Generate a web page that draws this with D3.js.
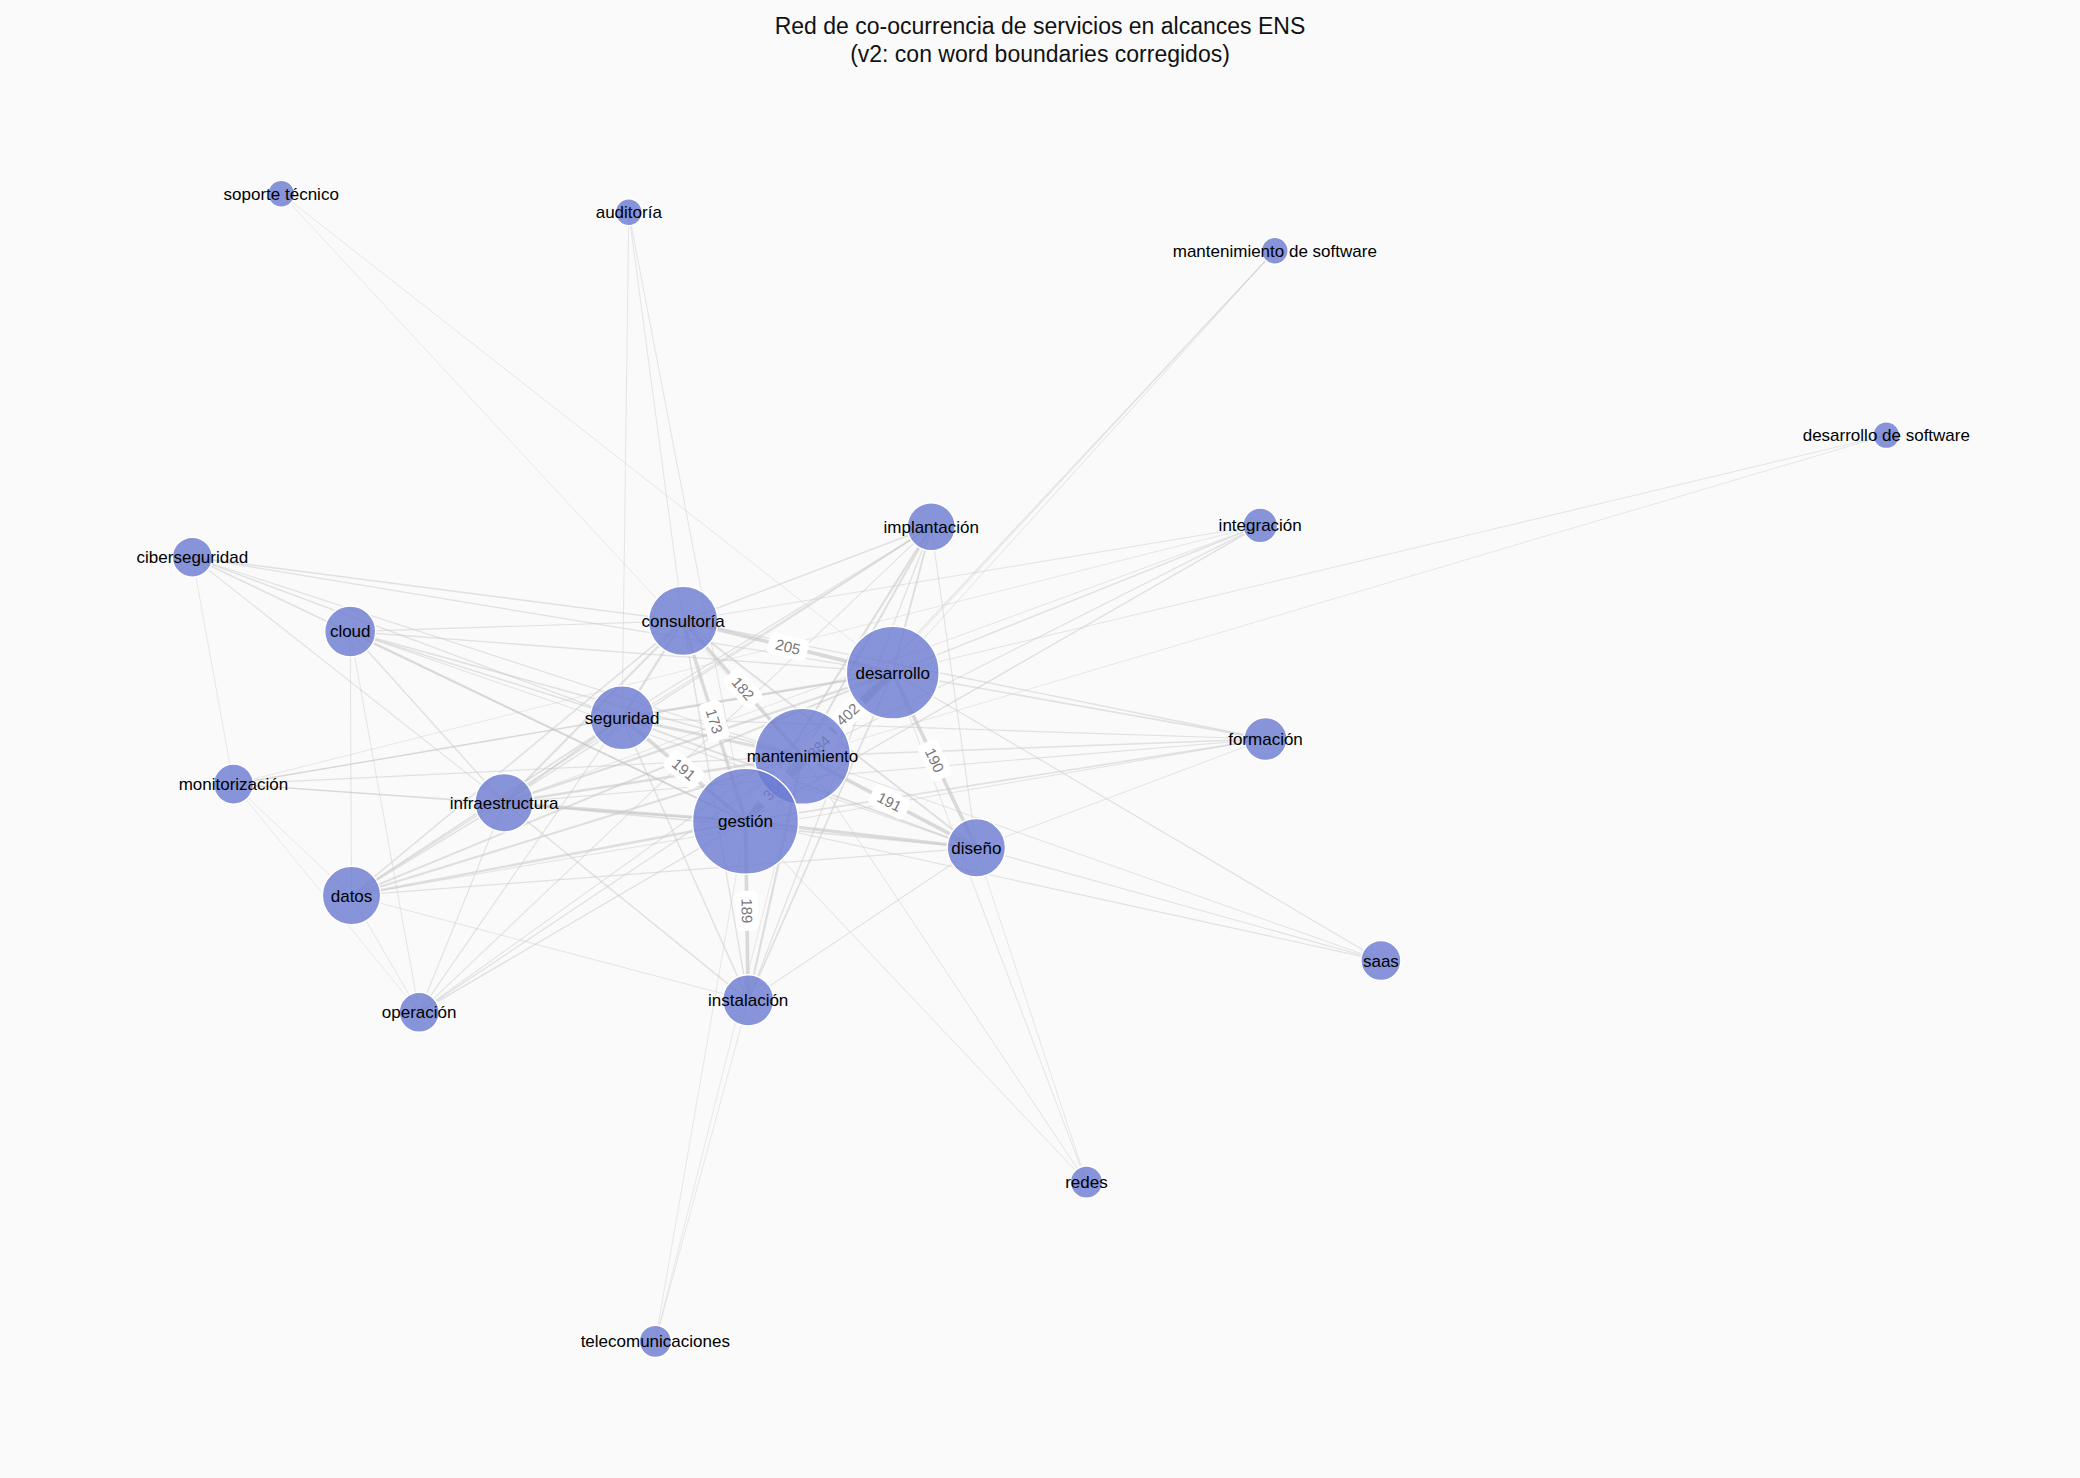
<!DOCTYPE html>
<html>
<head>
<meta charset="utf-8">
<script src="https://cdn.jsdelivr.net/npm/d3@7"></script>
<style>
body { margin: 0; background: #fafafa; }
text { font-family: "Liberation Sans", Arial, sans-serif; }
</style>
</head>
<body>
<script>
var width = 2080,
    height = 1478;

// nodes: name, layout position (x,y), frequency
var names = ["soporte técnico","auditoría","mantenimiento de software","desarrollo de software",
  "implantación","integración","ciberseguridad","cloud","consultoría","desarrollo","seguridad",
  "formación","mantenimiento","monitorización","infraestructura","gestión","diseño","datos",
  "saas","instalación","operación","redes","telecomunicaciones"];
var posX = [212,474,961,1422,702,950,145,264,515,673,469,954,605,176,380,562,736,265,1041,564,316,819,494];
var posY = [146,160,189,328,397,396,420,476,468,507,541,557,570,591,605,619,639,675,724,754,763,891,1011];
var freq = [36,36,36,36,115,60,80,130,240,430,205,92,460,80,170,560,170,170,80,130,80,52,52];

// edges: source, target, weight
var edgeSrc = [], edgeTgt = [], edgeW = [];
function e(a, b, w) { edgeSrc.push(a); edgeTgt.push(b); edgeW.push(w); }
e("soporte técnico","desarrollo",15); e("soporte técnico","mantenimiento",12);
e("auditoría","consultoría",20); e("auditoría","seguridad",18); e("auditoría","gestión",22);
e("mantenimiento de software","desarrollo",25); e("mantenimiento de software","mantenimiento",30); e("mantenimiento de software","gestión",20);
e("desarrollo de software","desarrollo",20); e("desarrollo de software","mantenimiento",15);
e("implantación","consultoría",60); e("implantación","desarrollo",80); e("implantación","mantenimiento",90);
e("implantación","gestión",100); e("implantación","seguridad",40); e("implantación","infraestructura",50);
e("implantación","datos",40); e("implantación","operación",30); e("implantación","instalación",40); e("implantación","diseño",30);
e("integración","desarrollo",50); e("integración","mantenimiento",40); e("integración","gestión",45);
e("integración","consultoría",25); e("integración","infraestructura",20); e("integración","monitorización",15);
e("ciberseguridad","consultoría",50); e("ciberseguridad","desarrollo",40); e("ciberseguridad","seguridad",45);
e("ciberseguridad","gestión",55); e("ciberseguridad","mantenimiento",35); e("ciberseguridad","infraestructura",30); e("ciberseguridad","monitorización",15);
e("cloud","consultoría",40); e("cloud","desarrollo",50); e("cloud","seguridad",55); e("cloud","gestión",70);
e("cloud","mantenimiento",60); e("cloud","infraestructura",50); e("cloud","datos",25); e("cloud","operación",20); e("cloud","diseño",30);
e("consultoría","desarrollo",205); e("consultoría","mantenimiento",182); e("consultoría","gestión",173);
e("consultoría","seguridad",110); e("consultoría","infraestructura",90); e("consultoría","datos",60);
e("consultoría","diseño",80); e("consultoría","formación",50); e("consultoría","instalación",50);
e("desarrollo","mantenimiento",402); e("desarrollo","gestión",384); e("desarrollo","diseño",190);
e("desarrollo","seguridad",120); e("desarrollo","infraestructura",100); e("desarrollo","datos",80);
e("desarrollo","formación",60); e("desarrollo","saas",40); e("desarrollo","instalación",70);
e("desarrollo","redes",20); e("desarrollo","operación",30); e("desarrollo","monitorización",40);
e("seguridad","gestión",191); e("seguridad","mantenimiento",140); e("seguridad","infraestructura",90);
e("seguridad","datos",70); e("seguridad","diseño",80); e("seguridad","formación",40);
e("seguridad","instalación",50); e("seguridad","operación",35); e("seguridad","monitorización",30);
e("formación","mantenimiento",50); e("formación","gestión",60); e("formación","infraestructura",30);
e("formación","datos",25); e("formación","diseño",20);
e("mantenimiento","gestión",354); e("mantenimiento","diseño",191); e("mantenimiento","infraestructura",120);
e("mantenimiento","datos",90); e("mantenimiento","instalación",100); e("mantenimiento","monitorización",40);
e("mantenimiento","operación",40); e("mantenimiento","saas",25); e("mantenimiento","redes",25); e("mantenimiento","telecomunicaciones",15);
e("monitorización","gestión",50); e("monitorización","infraestructura",30); e("monitorización","datos",15); e("monitorización","operación",10);
e("infraestructura","gestión",150); e("infraestructura","diseño",70); e("infraestructura","datos",60);
e("infraestructura","instalación",45); e("infraestructura","operación",30);
e("gestión","diseño",160); e("gestión","datos",110); e("gestión","instalación",189); e("gestión","operación",50);
e("gestión","saas",35); e("gestión","redes",25); e("gestión","telecomunicaciones",15);
e("diseño","datos",40); e("diseño","instalación",30); e("diseño","saas",30); e("diseño","redes",15);
e("instalación","telecomunicaciones",15); e("instalación","datos",20); e("datos","operación",20);

var labelMin = 170;

var svg = d3.select("body").append("svg")
    .attr("width", width)
    .attr("height", height)
    .style("background", "#fafafa");

var x = d3.scaleLinear().domain([0, 1568]).range([0, width]);
var y = d3.scaleLinear().domain([0, 1114]).range([0, height]);
var r = d3.scaleSqrt().domain([0, 560]).range([0, 53]);
var w = d3.scaleLinear().domain([0, 402]).range([0.6, 7]);
var op = d3.scaleLinear().domain([0, 402]).range([0.45, 0.9]);

var nodes = names.map(function(n, i) { return {name: n, x: x(posX[i]), y: y(posY[i]), f: freq[i]}; });
var byName = {};
nodes.forEach(function(d) { byName[d.name] = d; });
var links = edgeW.map(function(v, i) { return {s: byName[edgeSrc[i]], t: byName[edgeTgt[i]], w: v}; });

svg.append("text")
  .attr("x", width/2).attr("y", 34)
  .attr("text-anchor", "middle").attr("font-size", 23).attr("fill", "#111")
  .text("Red de co-ocurrencia de servicios en alcances ENS");
svg.append("text")
  .attr("x", width/2).attr("y", 62)
  .attr("text-anchor", "middle").attr("font-size", 23).attr("fill", "#111")
  .text("(v2: con word boundaries corregidos)");

svg.append("g").selectAll("line")
  .data(links)
  .enter().append("line")
    .attr("x1", function(d) { return d.s.x; })
    .attr("y1", function(d) { return d.s.y; })
    .attr("x2", function(d) { return d.t.x; })
    .attr("y2", function(d) { return d.t.y; })
    .attr("stroke", "#c8c8c8")
    .attr("stroke-opacity", function(d) { return op(d.w); })
    .attr("stroke-width", function(d) { return w(d.w); });

var lab = svg.append("g").selectAll("g")
  .data(links.filter(function(d) { return d.w >= labelMin; }))
  .enter().append("g")
    .attr("transform", function(d) {
      var mx = (d.s.x + d.t.x)/2, my = (d.s.y + d.t.y)/2;
      var a = Math.atan2(d.t.y - d.s.y, d.t.x - d.s.x) * 180 / Math.PI;
      if (a > 90) a -= 180;
      if (a < -90) a += 180;
      return "translate(" + mx + "," + my + ") rotate(" + a + ")";
    });
lab.append("rect")
  .attr("x", -20).attr("y", -11).attr("width", 40).attr("height", 22)
  .attr("rx", 5).attr("fill", "white");
lab.append("text")
  .attr("text-anchor", "middle").attr("dy", "0.35em")
  .attr("font-size", 15).attr("fill", "#777")
  .text(function(d) { return d.w; });

svg.append("g").selectAll("circle")
  .data(nodes)
  .enter().append("circle")
    .attr("cx", function(d) { return d.x; })
    .attr("cy", function(d) { return d.y; })
    .attr("r", function(d) { return r(d.f); })
    .attr("fill", "#6a7ad2")
    .attr("fill-opacity", 0.8)
    .attr("stroke", "white")
    .attr("stroke-width", 1.5);

svg.append("g").selectAll("text")
  .data(nodes)
  .enter().append("text")
    .attr("x", function(d) { return d.x; })
    .attr("y", function(d) { return d.y; })
    .attr("text-anchor", "middle").attr("dy", "0.35em")
    .attr("font-size", 17).attr("fill", "#000")
    .text(function(d) { return d.name; });
</script>
</body>
</html>
